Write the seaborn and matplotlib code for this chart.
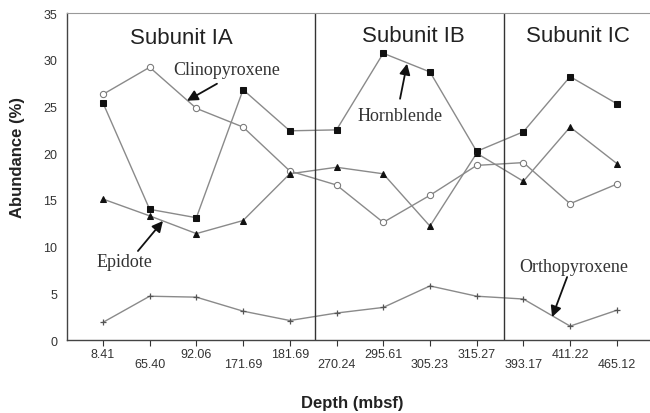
import matplotlib
matplotlib.use("Agg")
import matplotlib.pyplot as plt
import seaborn as sns
import pandas as pd
import numpy as np

depths = ["8.41", "65.40", "92.06", "171.69", "181.69", "270.24",
          "295.61", "305.23", "315.27", "393.17", "411.22", "465.12"]
clinopyroxene = [26.3, 29.2, 24.8, 22.8, 18.1, 16.6, 12.6, 15.5, 18.7, 19.0, 14.6, 16.7]
hornblende = [25.4, 14.0, 13.1, 26.8, 22.4, 22.5, 30.7, 28.7, 20.2, 22.3, 28.2, 25.3]
epidote = [15.1, 13.3, 11.4, 12.8, 17.8, 18.5, 17.8, 12.2, 20.0, 17.0, 22.8, 18.9]
orthopyroxene = [1.9, 4.7, 4.6, 3.1, 2.1, 2.9, 3.5, 5.8, 4.7, 4.4, 1.5, 3.2]
subunits = ["Subunit IA", "Subunit IB", "Subunit IC"]

sns.set_style("white")
plt.rcParams['font.family'] = ['Liberation Sans', 'DejaVu Sans']

fig = plt.figure(figsize=(6.5, 4.14), dpi=100)
ax = fig.add_axes([0.103, 0.176, 0.897, 0.79])

idx = np.arange(len(depths))
series = [
    ("Clinopyroxene", clinopyroxene, "o", dict(markerfacecolor="white", markeredgecolor="#777777", markersize=4.5)),
    ("Hornblende", hornblende, "s", dict(markerfacecolor="#111111", markeredgecolor="#111111", markersize=4.5)),
    ("Epidote", epidote, "^", dict(markerfacecolor="#111111", markeredgecolor="#111111", markersize=5)),
    ("Orthopyroxene", orthopyroxene, "+", dict(markeredgecolor="#555555", markersize=5, markeredgewidth=0.9)),
]
for name, vals, mk, kw in series:
    df = pd.DataFrame({"x": idx, "y": vals})
    sns.lineplot(data=df, x="x", y="y", ax=ax, color="#8a8a8a", linewidth=1.0,
                 marker=mk, **kw)

ax.set_xlim(-0.77, 11.71)
ax.set_ylim(0, 35)
ax.set_yticks([0, 5, 10, 15, 20, 25, 30, 35])
ax.tick_params(axis="y", labelsize=9, length=0, pad=7, colors="#333333")
ax.set_xticks(idx)
ax.set_xticklabels(depths, fontsize=9, color="#333333")
ax.tick_params(axis="x", length=4, direction="out", width=0.8, colors="#333333", bottom=True)
for i, t in enumerate(ax.xaxis.get_major_ticks()):
    if i % 2 == 1:
        t.tick1line.set_markersize(11)
        t.set_pad(9)
    else:
        t.tick1line.set_markersize(4)
        t.set_pad(1.5)

for s in ["left", "bottom"]:
    ax.spines[s].set_color("#444444")
    ax.spines[s].set_linewidth(1.0)
ax.spines["top"].set_color("#999999")
ax.spines["top"].set_linewidth(0.8)
ax.spines["right"].set_visible(False)

ax.axvline(4.54, color="#333333", linewidth=1.0)
ax.axvline(8.59, color="#333333", linewidth=1.0)

ax.text(1.67, 32.4, subunits[0], fontsize=16, ha="center", va="center", color="#222222")
ax.text(6.64, 32.6, subunits[1], fontsize=16, ha="center", va="center", color="#222222")
ax.text(10.17, 32.6, subunits[2], fontsize=16, ha="center", va="center", color="#222222")

serif = ['Liberation Serif', 'DejaVu Serif']

def px(xp, yp):
    return ((xp - 103) / 46.7, (341 - yp) / 9.33)

arrow = dict(arrowstyle="-|>", color="#111111", lw=1.3, mutation_scale=16, shrinkA=0, shrinkB=0)

ax.annotate("", xy=px(187, 102), xytext=px(217, 85), arrowprops=arrow)
ax.text(*px(227, 71), "Clinopyroxene", fontsize=13, family=serif, ha="center", va="center", color="#333333")

ax.annotate("", xy=px(407, 65), xytext=px(400, 100), arrowprops=arrow)
ax.text(*px(400, 117), "Hornblende", fontsize=13, family=serif, ha="center", va="center", color="#333333")

ax.annotate("", xy=px(163, 222), xytext=px(138, 252), arrowprops=arrow)
ax.text(*px(125, 262), "Epidote", fontsize=13, family=serif, ha="center", va="center", color="#333333")

ax.annotate("", xy=px(552, 318), xytext=px(567, 278), arrowprops=arrow)
ax.text(*px(574, 267), "Orthopyroxene", fontsize=13, family=serif, ha="center", va="center", color="#333333")

ax.set_xlabel("Depth (mbsf)", fontsize=12, fontweight="bold", color="#222222")
ax.set_ylabel("Abundance (%)", fontsize=12, fontweight="bold", color="#222222")
ax.xaxis.set_label_coords(0.489, -0.168)
ax.yaxis.set_label_coords(-0.072, 0.56)

fig.savefig("out.png", dpi=100)
